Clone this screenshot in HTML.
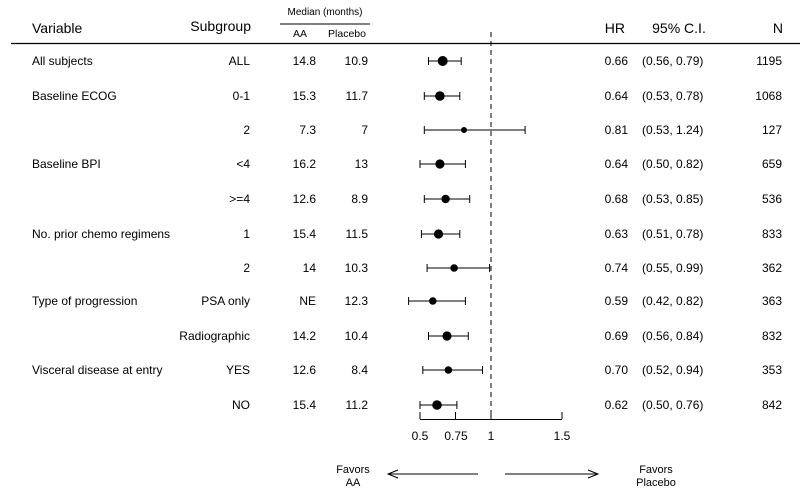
<!DOCTYPE html>
<html><head><meta charset="utf-8"><style>body{margin:0;background:#fff}svg{display:block}text{font-family:"Liberation Sans",Arial,sans-serif;fill:#000}.r{text-anchor:end}line{stroke:#000}</style></head>
<body>
<svg width="800" height="497" viewBox="0 0 800 497" xmlns="http://www.w3.org/2000/svg" xml:space="preserve">
<text x="32" y="33" font-size="14">Variable</text>
<text x="251" y="31" font-size="14" text-anchor="end">Subgroup</text>
<text x="325" y="15" font-size="10" text-anchor="middle">Median (months)</text>
<line x1="280" y1="24" x2="370" y2="24" stroke-width="1"/>
<text x="300" y="37" font-size="10.5" text-anchor="middle">AA</text>
<text x="347" y="37" font-size="10.5" text-anchor="middle">Placebo</text>
<text x="625" y="33" font-size="14" text-anchor="end">HR</text>
<text x="679" y="33" font-size="14" text-anchor="middle">95% C.I.</text>
<text x="783" y="33" font-size="14" text-anchor="end">N</text>
<line x1="11" y1="43.5" x2="800" y2="43.5" stroke-width="1.2"/>
<line x1="491" y1="32" x2="491" y2="419" stroke-width="1" stroke-dasharray="5,4"/>
<g font-size="12">
<g transform="translate(0,61)"><text x="32" y="4">All subjects</text><text class="r" x="250" y="4">ALL</text><text class="r" x="316" y="4">14.8</text><text class="r" x="368" y="4">10.9</text><text class="r" x="628" y="4">0.66</text><text x="642" y="4">(0.56,  0.79)</text><text class="r" x="782" y="4">1195</text>
<line x1="428.5" y1="0" x2="461.2" y2="0"/><line x1="428.5" y1="-4" x2="428.5" y2="4"/><line x1="461.2" y1="-4" x2="461.2" y2="4"/><circle cx="442.7" cy="0" r="5" fill="#000"/></g>
<g transform="translate(0,96)"><text x="32" y="4">Baseline ECOG</text><text class="r" x="250" y="4">0-1</text><text class="r" x="316" y="4">15.3</text><text class="r" x="368" y="4">11.7</text><text class="r" x="628" y="4">0.64</text><text x="642" y="4">(0.53,  0.78)</text><text class="r" x="782" y="4">1068</text>
<line x1="424.3" y1="0" x2="459.8" y2="0"/><line x1="424.3" y1="-4" x2="424.3" y2="4"/><line x1="459.8" y1="-4" x2="459.8" y2="4"/><circle cx="439.9" cy="0" r="4.8" fill="#000"/></g>
<g transform="translate(0,130)"><text class="r" x="250" y="4">2</text><text class="r" x="316" y="4">7.3</text><text class="r" x="368" y="4">7</text><text class="r" x="628" y="4">0.81</text><text x="642" y="4">(0.53,  1.24)</text><text class="r" x="782" y="4">127</text>
<line x1="424.3" y1="0" x2="525.1" y2="0"/><line x1="424.3" y1="-4" x2="424.3" y2="4"/><line x1="525.1" y1="-4" x2="525.1" y2="4"/><circle cx="464" cy="0" r="3" fill="#000"/></g>
<g transform="translate(0,164)"><text x="32" y="4">Baseline BPI</text><text class="r" x="250" y="4">&lt;4</text><text class="r" x="316" y="4">16.2</text><text class="r" x="368" y="4">13</text><text class="r" x="628" y="4">0.64</text><text x="642" y="4">(0.50,  0.82)</text><text class="r" x="782" y="4">659</text>
<line x1="420" y1="0" x2="465.4" y2="0"/><line x1="420" y1="-4" x2="420" y2="4"/><line x1="465.4" y1="-4" x2="465.4" y2="4"/><circle cx="439.9" cy="0" r="4.6" fill="#000"/></g>
<g transform="translate(0,199)"><text class="r" x="250" y="4">&gt;=4</text><text class="r" x="316" y="4">12.6</text><text class="r" x="368" y="4">8.9</text><text class="r" x="628" y="4">0.68</text><text x="642" y="4">(0.53,  0.85)</text><text class="r" x="782" y="4">536</text>
<line x1="424.3" y1="0" x2="469.7" y2="0"/><line x1="424.3" y1="-4" x2="424.3" y2="4"/><line x1="469.7" y1="-4" x2="469.7" y2="4"/><circle cx="445.6" cy="0" r="4.2" fill="#000"/></g>
<g transform="translate(0,234)"><text x="32" y="4">No. prior chemo regimens</text><text class="r" x="250" y="4">1</text><text class="r" x="316" y="4">15.4</text><text class="r" x="368" y="4">11.5</text><text class="r" x="628" y="4">0.63</text><text x="642" y="4">(0.51,  0.78)</text><text class="r" x="782" y="4">833</text>
<line x1="421.4" y1="0" x2="459.8" y2="0"/><line x1="421.4" y1="-4" x2="421.4" y2="4"/><line x1="459.8" y1="-4" x2="459.8" y2="4"/><circle cx="438.5" cy="0" r="4.6" fill="#000"/></g>
<g transform="translate(0,268)"><text class="r" x="250" y="4">2</text><text class="r" x="316" y="4">14</text><text class="r" x="368" y="4">10.3</text><text class="r" x="628" y="4">0.74</text><text x="642" y="4">(0.55,  0.99)</text><text class="r" x="782" y="4">362</text>
<line x1="427.1" y1="0" x2="489.6" y2="0"/><line x1="427.1" y1="-4" x2="427.1" y2="4"/><line x1="489.6" y1="-4" x2="489.6" y2="4"/><circle cx="454.1" cy="0" r="3.8" fill="#000"/></g>
<g transform="translate(0,301)"><text x="32" y="4">Type of progression</text><text class="r" x="250" y="4">PSA only</text><text class="r" x="316" y="4">NE</text><text class="r" x="368" y="4">12.3</text><text class="r" x="628" y="4">0.59</text><text x="642" y="4">(0.42,  0.82)</text><text class="r" x="782" y="4">363</text>
<line x1="408.6" y1="0" x2="465.4" y2="0"/><line x1="408.6" y1="-4" x2="408.6" y2="4"/><line x1="465.4" y1="-4" x2="465.4" y2="4"/><circle cx="432.8" cy="0" r="3.8" fill="#000"/></g>
<g transform="translate(0,336)"><text class="r" x="250" y="4">Radiographic</text><text class="r" x="316" y="4">14.2</text><text class="r" x="368" y="4">10.4</text><text class="r" x="628" y="4">0.69</text><text x="642" y="4">(0.56,  0.84)</text><text class="r" x="782" y="4">832</text>
<line x1="428.5" y1="0" x2="468.3" y2="0"/><line x1="428.5" y1="-4" x2="428.5" y2="4"/><line x1="468.3" y1="-4" x2="468.3" y2="4"/><circle cx="447" cy="0" r="4.6" fill="#000"/></g>
<g transform="translate(0,370)"><text x="32" y="4">Visceral disease at entry</text><text class="r" x="250" y="4">YES</text><text class="r" x="316" y="4">12.6</text><text class="r" x="368" y="4">8.4</text><text class="r" x="628" y="4">0.70</text><text x="642" y="4">(0.52,  0.94)</text><text class="r" x="782" y="4">353</text>
<line x1="422.8" y1="0" x2="482.5" y2="0"/><line x1="422.8" y1="-4" x2="422.8" y2="4"/><line x1="482.5" y1="-4" x2="482.5" y2="4"/><circle cx="448.4" cy="0" r="3.8" fill="#000"/></g>
<g transform="translate(0,405)"><text class="r" x="250" y="4">NO</text><text class="r" x="316" y="4">15.4</text><text class="r" x="368" y="4">11.2</text><text class="r" x="628" y="4">0.62</text><text x="642" y="4">(0.50,  0.76)</text><text class="r" x="782" y="4">842</text>
<line x1="420" y1="0" x2="456.9" y2="0"/><line x1="420" y1="-4" x2="420" y2="4"/><line x1="456.9" y1="-4" x2="456.9" y2="4"/><circle cx="437" cy="0" r="4.8" fill="#000"/></g>
</g>
<line x1="420" y1="419.5" x2="562" y2="419.5"/>
<line x1="420" y1="412" x2="420" y2="419"/><line x1="455.5" y1="412" x2="455.5" y2="419"/><line x1="491" y1="412" x2="491" y2="419"/><line x1="562" y1="412" x2="562" y2="419"/>
<g font-size="12" text-anchor="middle"><text x="420" y="440">0.5</text><text x="456" y="440">0.75</text><text x="491" y="440">1</text><text x="562" y="440">1.5</text></g>
<g font-size="11" text-anchor="middle"><text x="353" y="473">Favors</text><text x="353" y="486">AA</text><text x="656" y="473">Favors</text><text x="656" y="486">Placebo</text></g>
<g stroke="#000" fill="none"><line x1="388" y1="474" x2="478" y2="474"/><polyline points="398,470 388,474 398,478"/><line x1="505" y1="474" x2="598" y2="474"/><polyline points="588,470 598,474 588,478"/></g>
</svg>
</body></html>
